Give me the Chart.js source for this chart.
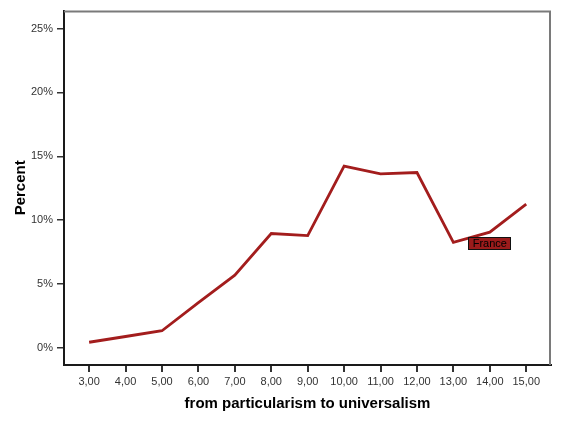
<!DOCTYPE html>
<html><head><meta charset="utf-8">
<script src="https://cdn.jsdelivr.net/npm/chart.js@4/dist/chart.umd.min.js"></script>
<style>html,body{margin:0;padding:0;background:#fff}#wrap{width:564px;height:424px}</style>
</head><body><div id="wrap"><canvas id="c" width="564" height="424"></canvas></div>
<script>
const xValues = [3,4,5,6,7,8,9,10,11,12,13,14,15];
const percentFrance = [0.45,0.9,1.35,3.55,5.7,8.96,8.8,14.24,13.62,13.73,8.26,9.06,11.25];
const xTickLabels = ['3,00','4,00','5,00','6,00','7,00','8,00','9,00','10,00','11,00','12,00','13,00','14,00','15,00'];
const yTickValues = [0,5,10,15,20,25];
const yTickLabels = ['0%','5%','10%','15%','20%','25%'];
const seriesLabel = 'France';
const labelAtX = 14;
const xTitle = 'from particularism to universalism';
const yTitle = 'Percent';

const points = xValues.map((x,i)=>({x:x,y:percentFrance[i]}));

const framePlugin = {
  id:'frame',
  afterDatasetsDraw(chart){
    const {ctx, chartArea:a} = chart;
    ctx.save();
    ctx.strokeStyle = '#7a7a7a';
    ctx.lineWidth = 2;
    ctx.beginPath();
    ctx.moveTo(a.left, a.top+1);
    ctx.lineTo(a.right-1, a.top+1);
    ctx.lineTo(a.right-1, a.bottom);
    ctx.stroke();
    ctx.restore();
  }
};
const labelPlugin = {
  id:'seriesLabel',
  afterDatasetsDraw(chart){
    const meta = chart.getDatasetMeta(0);
    const idx = xValues.indexOf(labelAtX);
    const p = meta.data[idx];
    const ctx = chart.ctx;
    ctx.save();
    ctx.font = '11px "Liberation Sans", Arial, sans-serif';
    const w = ctx.measureText(seriesLabel).width + 9;
    const h = 13;
    const cx = p.x, cy = p.y + 11;
    ctx.fillStyle = '#9b1b1b';
    ctx.fillRect(Math.round(cx - w/2), Math.round(cy - h/2), Math.round(w), h);
    ctx.strokeStyle = '#111';
    ctx.lineWidth = 1;
    ctx.strokeRect(Math.round(cx - w/2)+0.5, Math.round(cy - h/2)+0.5, Math.round(w)-1, h-1);
    ctx.fillStyle = '#000';
    ctx.textAlign = 'center';
    ctx.textBaseline = 'middle';
    ctx.fillText(seriesLabel, cx, cy+1);
    ctx.restore();
  }
};

new Chart(document.getElementById('c'), {
  type:'line',
  data:{datasets:[{
    label: seriesLabel,
    data: points,
    borderColor:'#a31d1d',
    borderWidth:2.8,
    pointRadius:0,
    tension:0,
    fill:false
  }]},
  options:{
    responsive:false,
    animation:false,
    devicePixelRatio:1,
    layout:{padding:{left:0,top:10,right:13,bottom:0}},
    plugins:{legend:{display:false},tooltip:{enabled:false}},
    scales:{
      x:{
        type:'linear',
        min:2.31, max:15.68,
        afterBuildTicks(s){ s.ticks = xValues.map(v=>({value:v})); },
        afterFit(s){ s.height = 59; },
        ticks:{
          autoSkip:false, maxRotation:0, padding:3,
          color:'#333',
          font:{family:'"Liberation Sans", Arial, sans-serif', size:11},
          callback:(v)=>xTickLabels[xValues.indexOf(v)]
        },
        grid:{display:true, drawOnChartArea:false, drawTicks:true, tickLength:7, tickColor:'#333', lineWidth:2},
        border:{display:true, color:'#1a1a1a', width:2},
        title:{display:true, text:xTitle, color:'#000',
          font:{family:'"Liberation Sans", Arial, sans-serif', size:15, weight:'bold'},
          padding:{top:0,bottom:11}}
      },
      y:{
        type:'linear',
        min:-1.33, max:26.4,
        afterBuildTicks(s){ s.ticks = yTickValues.map(v=>({value:v})); },
        afterFit(s){ s.width = 64; },
        ticks:{
          padding:4, color:'#333',
          font:{family:'"Liberation Sans", Arial, sans-serif', size:11},
          callback:(v)=>yTickLabels[yTickValues.indexOf(v)]
        },
        grid:{display:true, drawOnChartArea:false, drawTicks:true, tickLength:7, tickColor:'#333', lineWidth:1.5},
        border:{display:true, color:'#1a1a1a', width:2},
        title:{display:true, text:yTitle, color:'#000',
          font:{family:'"Liberation Sans", Arial, sans-serif', size:15, weight:'bold'},
          padding:{top:12,bottom:0}}
      }
    }
  },
  plugins:[framePlugin,labelPlugin]
});
</script>
</body></html>
